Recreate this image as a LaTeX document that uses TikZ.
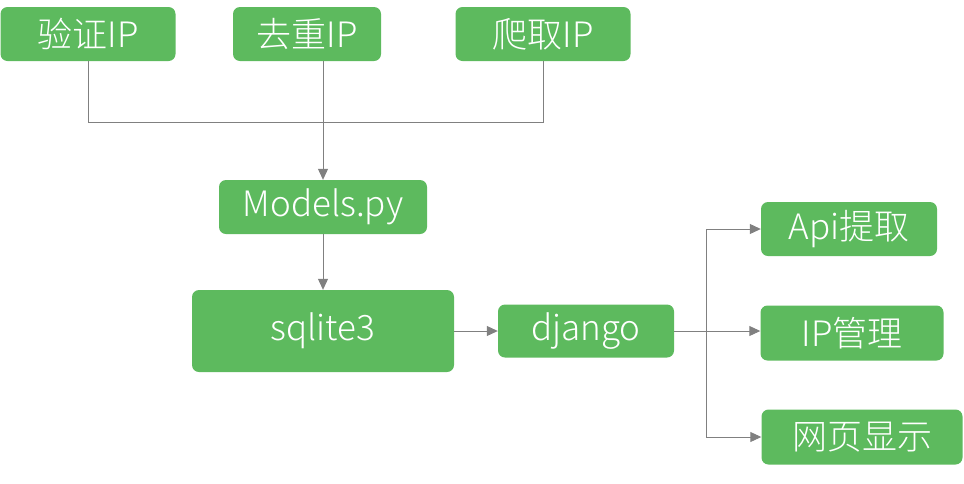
\documentclass[tikz,border=0pt]{standalone}
\usepackage{fontspec}
\setmainfont{Noto Sans CJK SC}[UprightFont=* Light]
\usetikzlibrary{arrows.meta}
\definecolor{boxgreen}{RGB}{93,186,94}
\definecolor{linegray}{RGB}{128,128,128}
\begin{document}
\begin{tikzpicture}[x=1pt,y=-1pt,
    box/.style={fill=boxgreen,rounded corners=7pt,text=white,inner sep=0pt,
        font=\fontsize{35}{38}\selectfont},
    wire/.style={draw=linegray,line width=1pt},
    link/.style={wire,-{Triangle[length=11pt,width=10pt]}}]
    \useasboundingbox (0,0) rectangle (964,483);

    \node[box,minimum width=175,minimum height=54] (verify) at (88,34) {验证IP};
    \node[box,minimum width=148,minimum height=54] (dedup) at (307,34) {去重IP};
    \node[box,minimum width=175,minimum height=54] (crawl) at (543,34) {爬取IP};
    \node[box,minimum width=208,minimum height=54] (models) at (323,207) {Models.py};
    \node[box,minimum width=262,minimum height=82] (sqlite) at (323,331) {sqlite3};
    \node[box,minimum width=176,minimum height=53] (django) at (586,331) {django};
    \node[box,minimum width=176,minimum height=54] (api) at (849,229) {Api提取};
    \node[box,minimum width=183,minimum height=55] (ipman) at (852,333) {IP管理};
    \node[box,minimum width=201,minimum height=55] (web) at (862,437) {网页显示};

    \coordinate (bus) at (0,122);
    \coordinate (split) at (706,331);

    \draw[wire] (verify.south) -- (verify.south |- bus) -- (crawl.south |- bus) -- (crawl.south);
    \draw[link] (models.north |- dedup.south) -- (models.north);
    \draw[link] (models.south) -- (sqlite.north);
    \draw[link] (sqlite.east) -- (django.west);
    \draw[wire] (django.east) -- (split);
    \draw[link] (split) -- (ipman.west |- split);
    \draw[link] (split) |- (api.west);
    \draw[link] (split) |- (web.west);
\end{tikzpicture}
\end{document}
